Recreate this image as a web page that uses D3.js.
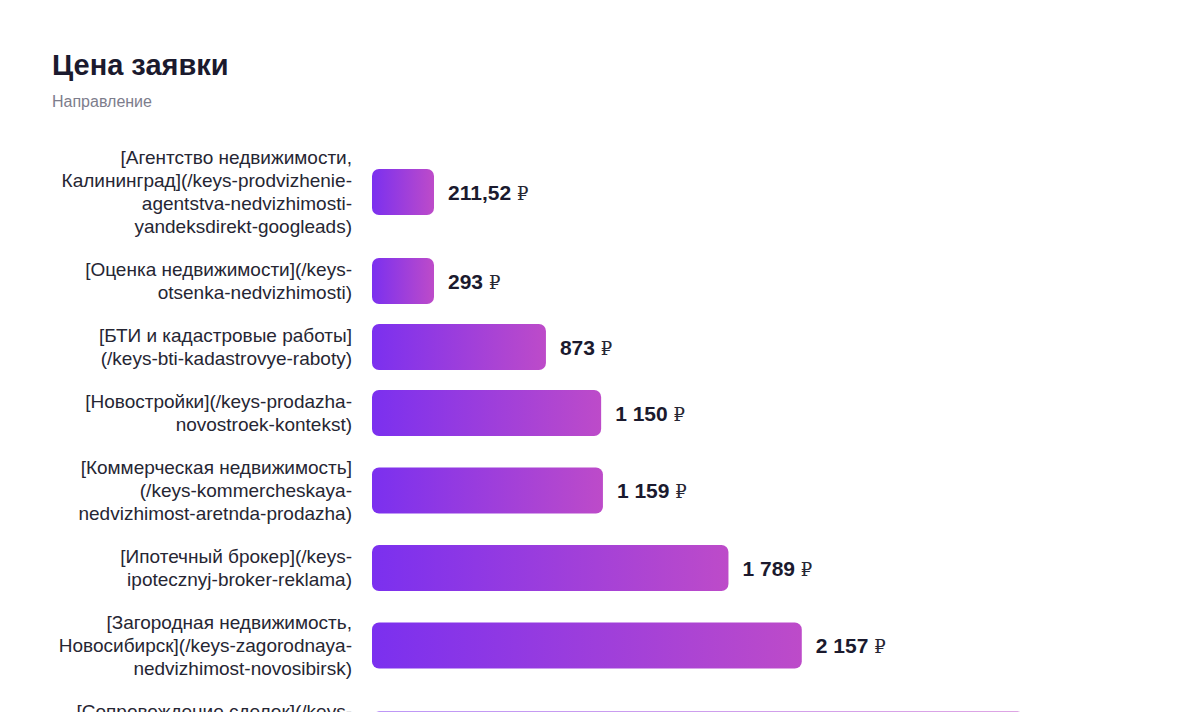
<!DOCTYPE html>
<html><head><meta charset="utf-8">
<script src="https://cdn.jsdelivr.net/npm/d3@7"></script>
<style>
html,body{margin:0;padding:0;background:#fff;overflow:hidden;}
svg{display:block;}
</style></head>
<body>
<svg id="chart" width="1200" height="712"></svg>
<script>
const title = "Цена заявки";
const subtitle = "Направление";
const categories = [
  "[Агентство недвижимости,\nКалининград](/keys-prodvizhenie-\nagentstva-nedvizhimosti-\nyandeksdirekt-googleads)",
  "[Оценка недвижимости](/keys-\notsenka-nedvizhimosti)",
  "[БТИ и кадастровые работы]\n(/keys-bti-kadastrovye-raboty)",
  "[Новостройки](/keys-prodazha-\nnovostroek-kontekst)",
  "[Коммерческая недвижимость]\n(/keys-kommercheskaya-\nnedvizhimost-aretnda-prodazha)",
  "[Ипотечный брокер](/keys-\nipotecznyj-broker-reklama)",
  "[Загородная недвижимость,\nНовосибирск](/keys-zagorodnaya-\nnedvizhimost-novosibirsk)",
  "[Сопровождение сделок](/keys-\nsoprovozhdenie-sdelok-\nnedvizhimost)"
];
const values = [211.52, 293, 873, 1150, 1159, 1789, 2157, 3275];
const currency = "₽";

const svg = d3.select("#chart");
const labelRight = 352, barLeft = 372;
const lineH = 23, barH = 46, gap = 20, top0 = 146, minBarW = 62;
const font = "Liberation Sans, Arial, Helvetica, sans-serif";

svg.append("text").attr("x", 52).attr("y", 75)
  .attr("font-family", font)
  .attr("font-size", 29).attr("font-weight", 700).attr("fill", "#1b1a2e").text(title);
svg.append("text").attr("x", 52).attr("y", 107)
  .attr("font-family", font)
  .attr("font-size", 16).attr("fill", "#7d7d8c").text(subtitle);

const rows = categories.map((c, i) => ({c, v: values[i], lines: c.split("\n")}));
let acc = top0;
rows.forEach(r => { r.h = Math.max(r.lines.length * lineH, barH); r.top = acc; acc += r.h + gap; });
const yScale = d3.scaleOrdinal().domain(categories).range(rows.map(r => r.top + r.h / 2));
const x = d3.scaleLinear().domain([0, 4000]).range([0, 797]);
const fmt = d3.formatLocale({decimal: ",", thousands: " ", grouping: [3], currency: ["", ""]});
const fmtVal = v => Number.isInteger(v) ? fmt.format(",d")(v) : fmt.format(",.2f")(v);

const defs = svg.append("defs");
const grad = defs.append("linearGradient").attr("id", "barGrad")
  .attr("x1", "0%").attr("x2", "100%").attr("y1", "0%").attr("y2", "0%");
grad.append("stop").attr("offset", "0%").attr("stop-color", "#7b30ef");
grad.append("stop").attr("offset", "100%").attr("stop-color", "#bd4bc9");

const g = svg.selectAll("g.row").data(rows).enter().append("g").attr("class", "row");

g.append("text")
  .attr("text-anchor", "end")
  .attr("font-family", font)
  .attr("font-size", 19).attr("fill", "#262633")
  .each(function(d) {
    const t = d3.select(this);
    const cy = yScale(d.c);
    const blockTop = cy - d.lines.length * lineH / 2;
    d.lines.forEach((ln, k) => {
      t.append("tspan").attr("x", labelRight).attr("y", blockTop + k * lineH + lineH / 2 + 6.5).text(ln);
    });
  });

const bw = d => Math.max(x(d.v), minBarW);
g.append("rect")
  .attr("x", barLeft).attr("y", d => yScale(d.c) - barH / 2)
  .attr("width", bw).attr("height", barH)
  .attr("rx", 7).attr("ry", 7).attr("fill", "url(#barGrad)");

const vt = g.append("text")
  .attr("x", d => barLeft + bw(d) + 14)
  .attr("y", d => yScale(d.c) + 7.5)
  .attr("font-family", font)
  .attr("font-size", 21).attr("font-weight", 700).attr("fill", "#1b1a2e");
vt.append("tspan").text(d => fmtVal(d.v) + " ");
vt.append("tspan").attr("font-weight", 400).attr("font-family", "DejaVu Serif, serif").attr("font-size", 18).attr("fill", "#262633").text(currency);
</script>
</body></html>
